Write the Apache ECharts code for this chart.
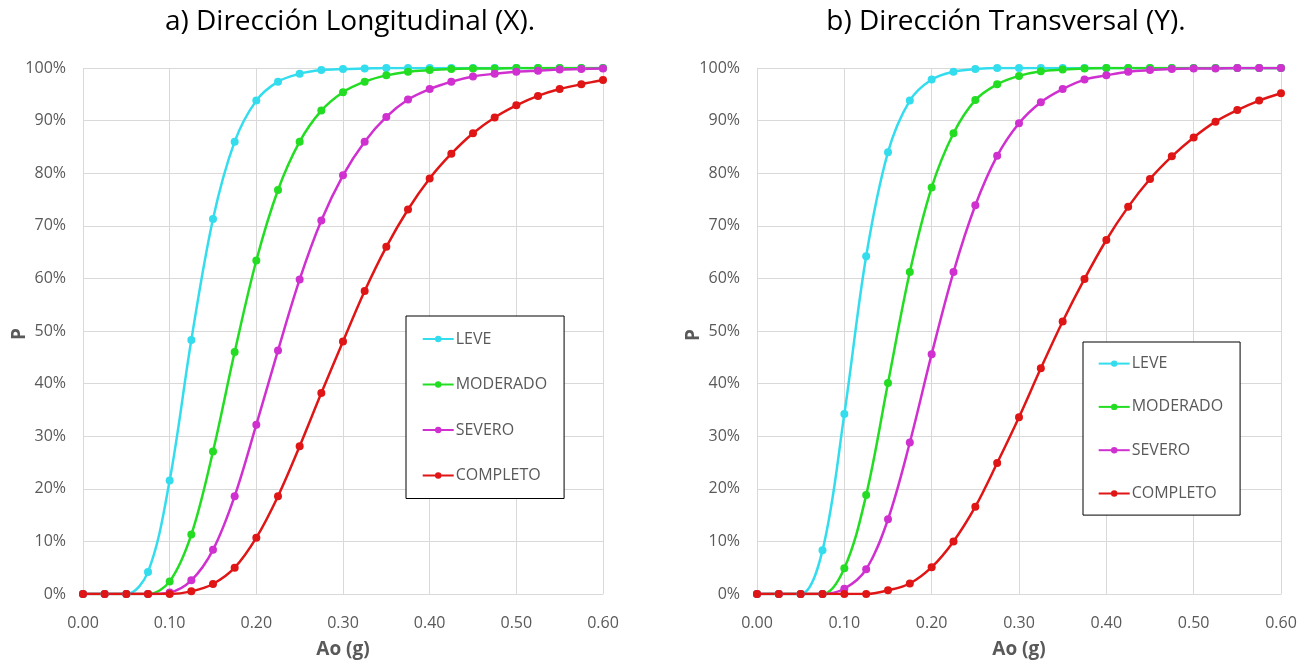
<!DOCTYPE html>
<html><head><meta charset="utf-8">
<script src="https://cdn.jsdelivr.net/npm/echarts@6/dist/echarts.min.js"></script>
<style>html,body{margin:0;padding:0;background:#fff}#c{width:1307px;height:664px}</style>
</head><body><div id="c"></div>
<script>
const ao = [0,0.025,0.05,0.075,0.1,0.125,0.15,0.175,0.2,0.225,0.25,0.275,0.3,0.325,0.35,0.375,0.4,0.425,0.45,0.475,0.5,0.525,0.55,0.575,0.6];
const xTicks = ['0.00','0.10','0.20','0.30','0.40','0.50','0.60'];
const seriesNames = ['LEVE','MODERADO','SEVERO','COMPLETO'];
const titles = ['a) Dirección Longitudinal (X).','b) Dirección Transversal (Y).'];
const yName = 'P';

const leveX = [0,0,0,4.2,21.6,48.3,71.3,86.0,93.8,97.4,98.9,99.6,99.8,99.9,100,100,100,100,100,100,100,100,100,100,100];
const moderadoX = [0,0,0,0,2.4,11.3,27.1,46.0,63.4,76.8,86.0,91.9,95.4,97.4,98.6,99.3,99.6,99.8,99.9,99.9,100,100,100,100,100];
const severoX = [0,0,0,0,0.3,2.6,8.4,18.6,32.2,46.3,59.8,71.0,79.6,86.0,90.7,94.0,96.0,97.4,98.4,98.9,99.3,99.5,99.7,99.8,99.9];
const completoX = [0,0,0,0,0,0.5,1.9,5.0,10.7,18.6,28.1,38.2,48.0,57.6,66.0,73.1,79.0,83.7,87.6,90.6,92.9,94.7,96.0,96.9,97.7];

const leveY = [0,0,0,8.3,34.2,64.2,84.0,93.8,97.8,99.3,99.8,100,100,100,100,100,100,100,100,100,100,100,100,100,100];
const moderadoY = [0,0,0,0,4.9,18.8,40.1,61.2,77.3,87.6,93.9,96.9,98.5,99.4,99.7,99.9,100,100,100,100,100,100,100,100,100];
const severoY = [0,0,0,0,1.0,4.7,14.2,28.8,45.6,61.2,73.9,83.3,89.5,93.5,96.0,97.8,98.6,99.3,99.6,99.8,99.9,99.9,100,100,100];
const completoY = [0,0,0,0,0,0,0.7,2.0,5.1,10.0,16.6,24.9,33.6,42.9,51.8,59.9,67.3,73.6,78.9,83.2,86.8,89.8,92.0,93.8,95.2];

const colors = ['#33DDEE','#22DD22','#D030D0','#E01515'];
const FONT = '"Open Sans", sans-serif';
const txt = '#595959';

function pairs(vals){ return ao.map((x,i)=>[x, vals[i]]); }

function xAxis(idx){
  return {
    type:'value', gridIndex:idx, min:0, max:0.6, interval:0.1,
    name:'Ao (g)', nameLocation:'middle', nameGap:46,
    nameTextStyle:{fontFamily:FONT, fontSize:19, fontWeight:'bold', color:txt},
    axisLine:{show:true, lineStyle:{color:'#d9d9d9', width:1}},
    axisTick:{show:false},
    axisLabel:{fontFamily:FONT, fontSize:16, color:txt, margin:21,
      formatter:(v)=>xTicks[Math.round(v*10)]},
    splitLine:{show:true, lineStyle:{color:'#d9d9d9', width:1}}
  };
}
function yAxis(idx){
  return {
    type:'value', gridIndex:idx, min:0, max:100, interval:10,
    axisLine:{show:false}, axisTick:{show:false},
    axisLabel:{fontFamily:FONT, fontSize:16, color:txt, margin:17, formatter:(v)=>v+'%'},
    splitLine:{show:true, lineStyle:{color:'#d9d9d9', width:1}}
  };
}
function mkSeries(name, vals, idx, ci){
  return {
    name:name, type:'line', xAxisIndex:idx, yAxisIndex:idx,
    data:pairs(vals), smooth:0.35,
    symbol:'circle', symbolSize:8, showSymbol:true,
    lineStyle:{color:colors[ci], width:2.5},
    itemStyle:{color:colors[ci]},
    emphasis:{disabled:true}, animation:false
  };
}
function legend(left, top, gap, padV, padL, padR){
  return {
    orient:'vertical', left:left, top:top, itemGap:gap,
    padding:[padV, padR, padV, padL],
    borderColor:'#000', borderWidth:1, backgroundColor:'#fff',
    itemWidth:31, itemHeight:8,
    textStyle:{fontFamily:FONT, fontSize:16, color:txt, padding:[0,0,0,-3]},
    data:seriesNames
  };
}
function yLabel(x, y){
  return {type:'text', x:x, y:y, rotation:Math.PI/2,
    style:{text:yName, font:'bold 19px "Open Sans", sans-serif', fill:txt, textAlign:'center', textVerticalAlign:'middle'}};
}

const chart = echarts.init(document.getElementById('c'), null, {renderer:'canvas'});
chart.setOption({
  backgroundColor:'#fff',
  animation:false,
  graphic:[
    {type:'text', x:350, y:22, style:{text:titles[0], font:'28px "Open Sans", sans-serif', fill:'#000', textAlign:'center', textVerticalAlign:'middle'}},
    {type:'text', x:1006, y:22, style:{text:titles[1], font:'28px "Open Sans", sans-serif', fill:'#000', textAlign:'center', textVerticalAlign:'middle'}},
    yLabel(20, 334),
    yLabel(694, 335)
  ],
  grid:[
    {left:83, top:68, width:520, height:533},
    {left:757, top:68, width:524, height:535}
  ],
  xAxis:[xAxis(0), xAxis(1)],
  yAxis:[yAxis(0), yAxis(1)],
  legend:[
    legend(406, 316, 29.5, 15, 15.7, 17),
    legend(1083, 342, 27.3, 13.6, 14.7, 17)
  ],
  series:[
    mkSeries(seriesNames[0], leveX, 0, 0),
    mkSeries(seriesNames[1], moderadoX, 0, 1),
    mkSeries(seriesNames[2], severoX, 0, 2),
    mkSeries(seriesNames[3], completoX, 0, 3),
    mkSeries(seriesNames[0], leveY, 1, 0),
    mkSeries(seriesNames[1], moderadoY, 1, 1),
    mkSeries(seriesNames[2], severoY, 1, 2),
    mkSeries(seriesNames[3], completoY, 1, 3)
  ]
});
</script></body></html>
